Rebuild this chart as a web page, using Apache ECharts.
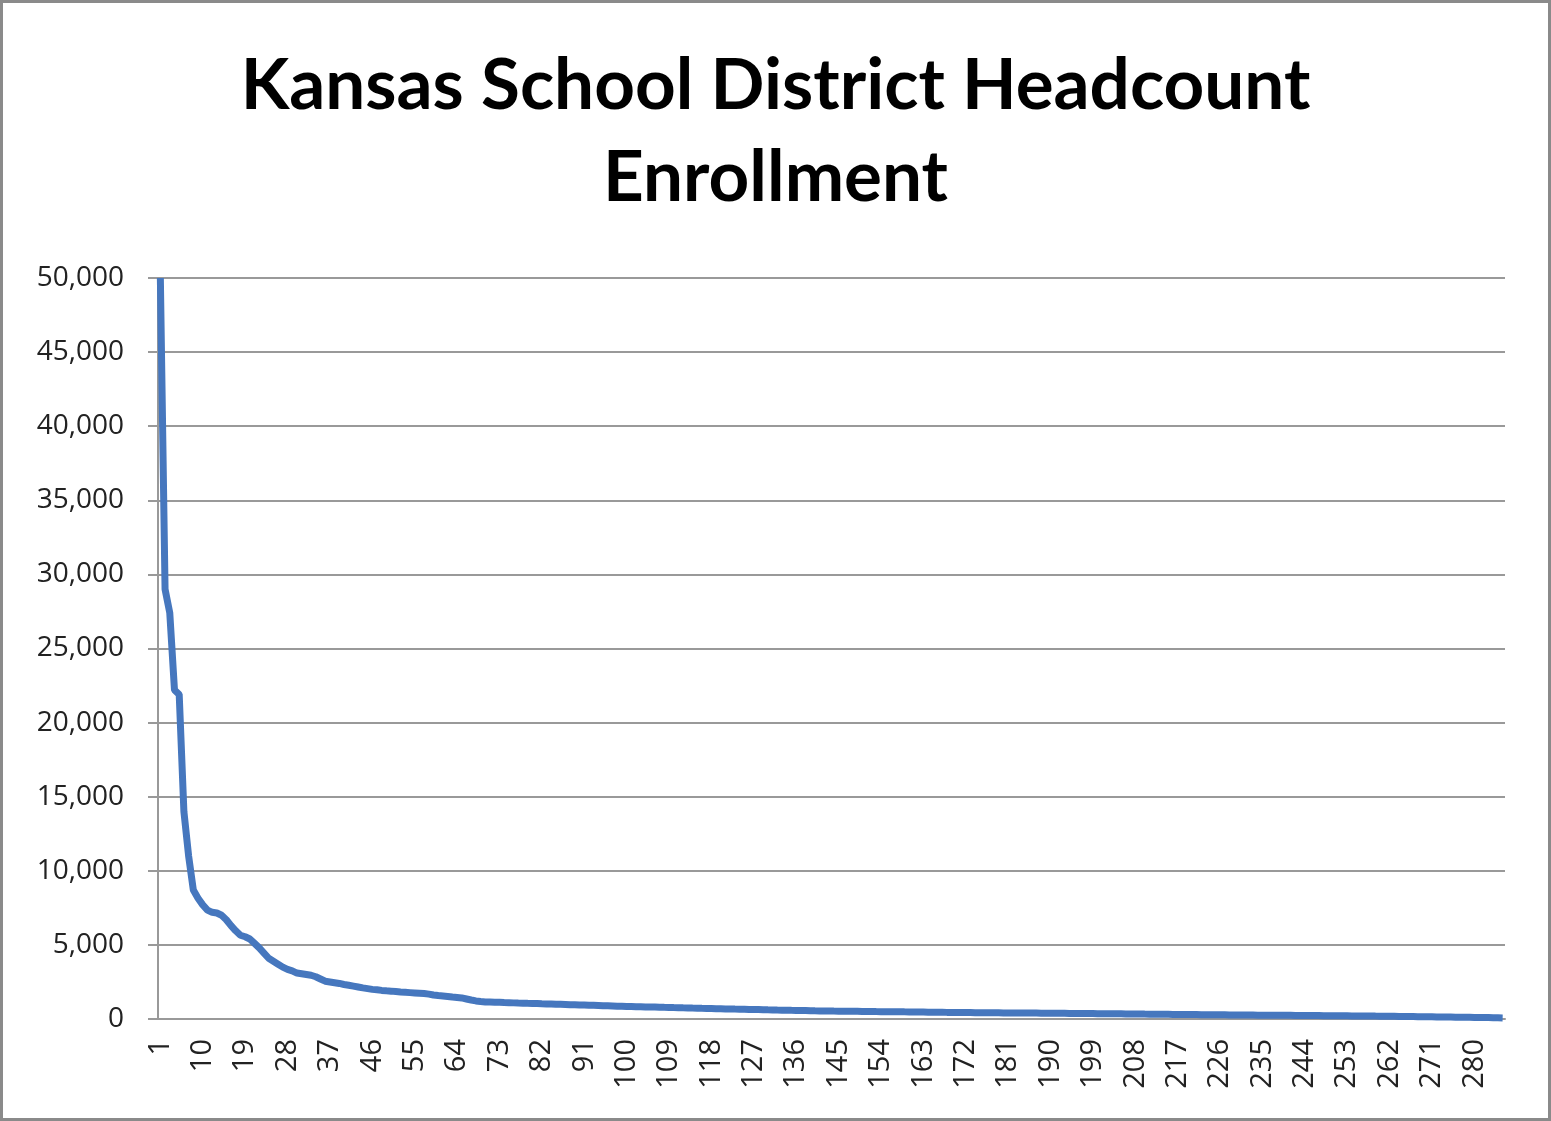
<!DOCTYPE html>
<html>
<head>
<meta charset="utf-8">
<script src="https://cdn.jsdelivr.net/npm/echarts@6/dist/echarts.min.js"></script>
<style>
  html, body { margin: 0; padding: 0; background: #fff; }
  #chart { width: 1551px; height: 1121px; }
</style>
</head>
<body>
<div id="chart"></div>
<script>
// districts ranked by headcount, 1..286
const districts = Array.from({ length: 286 }, (_, i) => String(i + 1))

// headcount enrollment
const enrollment = [
  50000, 29000, 27400, 22200, 21900, 14000, 11000, 8700, 8150, 7700,
  7350, 7200, 7150, 7000, 6700, 6300, 5950, 5650, 5550, 5400,
  5100, 4800, 4450, 4100, 3900, 3700, 3500, 3350, 3250, 3100,
  3050, 3000, 2950, 2850, 2700, 2550, 2500, 2450, 2400, 2330,
  2280, 2220, 2160, 2100, 2050, 2000, 1970, 1930, 1900, 1880,
  1850, 1820, 1800, 1780, 1760, 1740, 1720, 1680, 1620, 1580,
  1550, 1520, 1480, 1450, 1420, 1350, 1280, 1220, 1180, 1150,
  1143, 1131, 1124, 1109, 1102, 1088, 1079, 1071, 1058, 1049,
  1041, 1027, 1019, 1012, 998, 991, 984, 969, 962, 951,
  943, 928, 921, 912, 897, 891, 883, 868, 861, 849,
  844, 833, 827, 815, 809, 804, 792, 785, 779, 768,
  763, 752, 747, 736, 731, 719, 712, 707, 696, 691,
  682, 677, 668, 661, 657, 646, 640, 636, 625, 619,
  614, 605, 598, 594, 583, 579, 570, 566, 556, 551,
  547, 541, 539, 533, 528, 527, 520, 517, 515, 508,
  506, 505, 500, 497, 496, 490, 488, 487, 481, 479,
  477, 471, 469, 463, 461, 455, 453, 447, 445, 439,
  438, 433, 432, 427, 426, 421, 420, 415, 414, 409,
  409, 405, 404, 401, 400, 397, 397, 393, 392, 389,
  388, 383, 382, 377, 376, 371, 370, 365, 364, 359,
  358, 353, 352, 347, 346, 341, 340, 335, 334, 329,
  328, 323, 322, 317, 316, 311, 310, 305, 304, 299,
  298, 293, 292, 287, 286, 281, 280, 275, 274, 270,
  269, 266, 265, 261, 260, 257, 256, 253, 252, 249,
  248, 243, 242, 237, 236, 231, 230, 225, 224, 219,
  218, 213, 212, 207, 206, 201, 200, 195, 194, 189,
  187, 181, 179, 173, 171, 165, 163, 157, 155, 149,
  147, 141, 139, 133, 131, 125, 123, 117, 115, 109,
  105, 97, 93, 85, 79, 70
]

const chart = echarts.init(document.getElementById('chart'))

chart.setOption({
  animation: false,
  backgroundColor: '#fff',
  title: {
    text: 'Kansas School District Headcount\nEnrollment',
    left: 'center',
    top: 35,
    textStyle: {
      fontFamily: 'Lato, "Open Sans", sans-serif',
      fontWeight: 'bold',
      fontSize: 71,
      lineHeight: 92,
      color: '#000'
    }
  },
  graphic: [{
    type: 'rect',
    shape: { x: 1.5, y: 1.5, width: 1548, height: 1118 },
    style: { fill: 'none', stroke: '#8a8a8a', lineWidth: 3 },
    silent: true
  }],
  grid: {
    left: 158,
    right: 46,
    top: 278,
    bottom: 102
  },
  xAxis: {
    type: 'category',
    data: districts,
    boundaryGap: true,
    axisLine: { lineStyle: { color: '#999', width: 2 } },
    axisTick: {
      interval: 0,
      length: 10,
      lineStyle: { color: '#aaa', width: 1.5 }
    },
    axisLabel: {
      interval: 8,
      rotate: 90,
      margin: 20,
      fontFamily: '"Open Sans", sans-serif',
      fontSize: 29,
      color: '#222'
    }
  },
  yAxis: {
    type: 'value',
    min: 0,
    max: 50000,
    interval: 5000,
    axisLine: { show: true, lineStyle: { color: '#999', width: 2 } },
    axisTick: { show: true, length: 10, lineStyle: { color: '#999', width: 2 } },
    splitLine: { lineStyle: { color: '#999', width: 2 } },
    axisLabel: {
      margin: 34,
      fontFamily: '"Open Sans", sans-serif',
      fontSize: 28,
      color: '#222',
      formatter: v => v.toLocaleString('en-US')
    }
  },
  series: [{
    type: 'line',
    data: enrollment,
    showSymbol: false,
    lineStyle: { color: '#4677be', width: 7 },
    itemStyle: { color: '#4677be' }
  }]
})
</script>
</body>
</html>
